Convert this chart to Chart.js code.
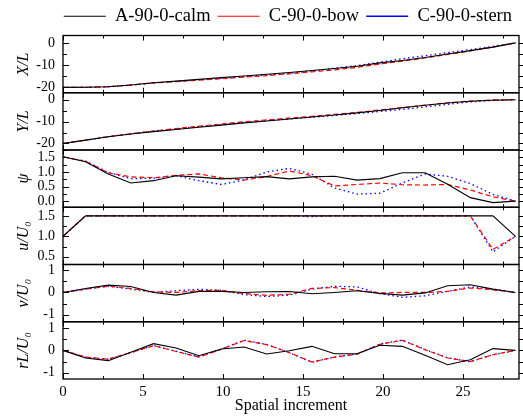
<!DOCTYPE html>
<html>
<head>
<meta charset="utf-8">
<script src="https://cdn.jsdelivr.net/npm/chart.js@4.4.1/dist/chart.umd.min.js"></script>
<style>
	html,body{margin:0;padding:0;background:#fff;}
	#wrap{width:523px;height:416px;}
</style>
</head>
<body>
<div id="wrap"><canvas id="trackChart" width="523" height="416"></canvas></div>
<script>
// spatial increment of each sample
var increment = [0, 1.41, 2.83, 4.24, 5.66, 7.07, 8.49, 9.9, 11.31, 12.73, 14.14, 15.56, 16.97, 18.38, 19.8, 21.21, 22.63, 24.04, 25.46, 26.87, 28.28];
var seriesNames = ['A-90-0-calm', 'C-90-0-bow', 'C-90-0-stern'];

// X/L
var xCalm  = [-20, -19.95, -19.7, -18.9, -17.9, -17.2, -16.4, -15.6, -14.9, -14.1, -13.3, -12.4, -11.5, -10.5, -9.0, -7.9, -6.6, -5.0, -3.5, -1.9, 0];
var xBow   = [-20, -19.95, -19.7, -18.9, -18.0, -17.4, -16.8, -16.1, -15.4, -14.7, -13.9, -13.0, -12.1, -11.0, -9.5, -8.2, -6.8, -5.2, -3.6, -1.9, 0];
var xStern = [-20, -19.95, -19.7, -19.0, -18.0, -17.3, -16.6, -15.9, -15.1, -14.4, -13.6, -12.6, -11.4, -10.2, -8.7, -7.1, -5.8, -4.4, -3.0, -1.6, 0];
// Y/L
var yCalm  = [-20, -18.5, -16.9, -15.7, -14.6, -13.6, -12.6, -11.6, -10.6, -9.7, -8.8, -7.9, -7.0, -6.0, -4.9, -3.7, -2.5, -1.5, -0.7, -0.2, 0];
var yBow   = [-20, -18.5, -16.9, -15.6, -14.3, -13.2, -12.1, -11.1, -10.1, -9.2, -8.4, -7.6, -6.7, -5.8, -4.7, -3.6, -2.5, -1.4, -0.6, -0.1, 0];
var yStern = [-20, -18.5, -16.9, -15.6, -14.4, -13.4, -12.4, -11.4, -10.5, -9.6, -8.8, -8.0, -7.2, -6.3, -5.4, -4.4, -3.3, -2.1, -1.0, -0.3, 0];
// psi
var psiCalm  = [1.52, 1.35, 0.93, 0.62, 0.70, 0.87, 0.82, 0.76, 0.80, 0.84, 0.76, 0.83, 0.85, 0.72, 0.77, 0.97, 0.97, 0.58, 0.12, -0.05, 0];
var psiBow   = [1.52, 1.36, 0.97, 0.83, 0.80, 0.88, 0.93, 0.80, 0.72, 0.84, 1.03, 0.87, 0.52, 0.57, 0.62, 0.56, 0.55, 0.57, 0.38, 0.15, 0];
var psiStern = [1.52, 1.37, 0.98, 0.77, 0.78, 0.87, 0.70, 0.57, 0.72, 1.0, 1.12, 0.92, 0.45, 0.24, 0.27, 0.62, 0.93, 0.85, 0.60, 0.23, 0];
// u/U0
var uCalm  = [1.0, 1.5, 1.5, 1.5, 1.5, 1.5, 1.5, 1.5, 1.5, 1.5, 1.5, 1.5, 1.5, 1.5, 1.5, 1.5, 1.5, 1.5, 1.5, 1.5, 1.0];
var uBow   = [1.0, 1.5, 1.5, 1.5, 1.5, 1.5, 1.5, 1.5, 1.5, 1.5, 1.5, 1.5, 1.5, 1.5, 1.5, 1.5, 1.5, 1.5, 1.5, 0.68, 1.0];
var uStern = [1.0, 1.5, 1.5, 1.5, 1.5, 1.5, 1.5, 1.5, 1.5, 1.5, 1.5, 1.48, 1.5, 1.5, 1.5, 1.5, 1.5, 1.5, 1.5, 0.62, 1.0];
// v/U0
var vCalm  = [0, 0.18, 0.33, 0.27, 0.0, -0.12, 0.05, 0.05, 0.0, 0.03, 0.04, -0.06, 0.0, 0.08, -0.04, -0.12, -0.02, 0.3, 0.35, 0.15, 0];
var vBow   = [0, 0.15, 0.28, 0.18, 0.03, 0.0, 0.08, 0.1, -0.05, -0.13, -0.08, 0.18, 0.22, 0.1, -0.02, 0.0, 0.0, 0.05, 0.2, 0.12, 0];
var vStern = [0, 0.15, 0.28, 0.15, 0.0, 0.08, 0.14, 0.1, -0.1, -0.18, -0.12, 0.15, 0.28, 0.25, -0.05, -0.22, -0.15, 0.05, 0.25, 0.15, 0];
// rL/U0
var rCalm  = [0, -0.34, -0.46, -0.08, 0.3, 0.11, -0.24, 0.06, 0.15, -0.16, -0.02, 0.18, -0.15, -0.15, 0.23, 0.18, -0.22, -0.64, -0.42, 0.08, 0];
var rBow   = [0, -0.3, -0.39, -0.1, 0.21, -0.05, -0.3, 0.05, 0.44, 0.26, -0.1, -0.52, -0.3, -0.17, 0.27, 0.45, 0.03, -0.34, -0.5, -0.19, 0];
var rStern = [0, -0.31, -0.4, -0.1, 0.22, -0.04, -0.29, 0.06, 0.45, 0.27, -0.1, -0.53, -0.3, -0.16, 0.28, 0.46, 0.04, -0.33, -0.51, -0.2, 0];

var serif = "'Liberation Serif', 'DejaVu Serif', serif";
var lineStyles = [
	{ color: '#000000', dash: [], width: 1.1 },
	{ color: '#ff0000', dash: [5, 3], width: 1.2 },
	{ color: '#0000ff', dash: [1.5, 3], width: 1.3 }
];

// one entry per panel, top to bottom
var panels = [
	{ id: 'yX',   title: 'X/L',    min: -22.4, max: 3.3,  step: 10,  dec: 0, series: [xCalm, xBow, xStern] },
	{ id: 'yY',   title: 'Y/L',    min: -23,   max: 3.2,  step: 10,  dec: 0, series: [yCalm, yBow, yStern] },
	{ id: 'yPsi', title: 'ψ',      min: -0.21, max: 1.75, step: 0.5, dec: 1, series: [psiCalm, psiBow, psiStern] },
	{ id: 'yU',   title: 'u/U₀',   min: 0.31,  max: 1.71, step: 0.5, dec: 1, series: [uCalm, uBow, uStern] },
	{ id: 'yV',   title: 'v/U₀',   min: -1.32, max: 1.26, step: 1,   dec: 0, series: [vCalm, vBow, vStern] },
	{ id: 'yR',   title: 'rL/U₀',  min: -1.28, max: 1.28, step: 1,   dec: 0, series: [rCalm, rBow, rStern] }
];

function toPoints(values){
	return values.map(function(v, i){ return { x: increment[i], y: v }; });
}

function makeDatasets(){
	var sets = [];
	for (var s = 0; s < 3; s++) {
		panels.forEach(function(p){
			sets.push({
				label: seriesNames[s],
				data: toPoints(p.series[s]),
				yAxisID: p.id,
				borderColor: lineStyles[s].color,
				backgroundColor: lineStyles[s].color,
				borderDash: lineStyles[s].dash,
				borderWidth: lineStyles[s].width,
				pointRadius: 0,
				tension: 0,
				fill: false,
				order: s
			});
		});
	}
	return sets;
}

function makeScales(){
	var scales = {
		x: {
			type: 'linear', min: 0, max: 28.5,
			ticks: { stepSize: 5, includeBounds: false, autoSkip: false, padding: 4, color: '#000', font: { family: serif, size: 15 } },
			grid: { display: false, drawTicks: false },
			border: { display: false },
			title: { display: true, text: 'Spatial increment', color: '#000', font: { family: serif, size: 16 }, padding: { top: 0, bottom: 1 } },
			afterFit: function(scale){ scale.height = 37; }
		}
	};
	panels.forEach(function(p, i){
		scales[p.id] = {
			type: 'linear', position: 'left', stack: 'panels', stackWeight: 1, weight: 10 - i,
			min: p.min, max: p.max,
			ticks: {
				stepSize: p.step, includeBounds: false, autoSkip: false, padding: 8, color: '#000',
				font: { family: serif, size: 14 },
				callback: function(v){ return v.toFixed(p.dec); }
			},
			grid: { display: false, drawTicks: false },
			border: { display: false },
			title: { display: true, text: p.title, color: '#000', font: { family: serif, size: 16, style: 'italic' }, padding: { top: 14, bottom: 0 } },
			afterFit: function(scale){ scale.width = 63; }
		};
	});
	return scales;
}

// panel frames with inward ticks, as in the original figure
var panelFrame = {
	id: 'panelFrame',
	afterDatasetsDraw: function(chart){
		var ctx = chart.ctx, xs = chart.scales.x, area = chart.chartArea;
		function seg(x1, y1, x2, y2){ ctx.beginPath(); ctx.moveTo(x1, y1); ctx.lineTo(x2, y2); ctx.stroke(); }
		ctx.save();
		ctx.strokeStyle = '#000';
		ctx.setLineDash([]);
		panels.forEach(function(p){
			var s = chart.scales[p.id];
			ctx.lineWidth = 1.3;
			ctx.strokeRect(area.left, s.top, area.right - area.left, s.bottom - s.top);
			ctx.lineWidth = 1;
			for (var v = 0; v <= xs.max; v += 2.5) {
				var px = Math.round(xs.getPixelForValue(v)) + 0.5, len = (v % 5 === 0) ? 5 : 3;
				seg(px, s.top, px, s.top + len);
				seg(px, s.bottom, px, s.bottom - len);
			}
			s.ticks.forEach(function(t){
				[t.value, t.value - p.step / 2, t.value + p.step / 2].forEach(function(val, k){
					if (val < s.min || val > s.max) return;
					var py = Math.round(s.getPixelForValue(val)) + 0.5, len = k === 0 ? 6 : 4;
					seg(area.left, py, area.left + len, py);
					seg(area.right, py, area.right + 4, py);
				});
			});
		});
		ctx.restore();
	}
};

function drawChart(){
	Chart.defaults.color = '#000';
	Chart.defaults.font.family = serif;
	new Chart(document.getElementById('trackChart'), {
		type: 'line',
		data: { datasets: makeDatasets() },
		options: {
			responsive: false,
			animation: false,
			devicePixelRatio: 1,
			layout: { padding: { top: 0, right: 4, bottom: 0, left: 0 } },
			plugins: {
				legend: {
					display: true, position: 'top', align: 'end',
					labels: {
						usePointStyle: true, pointStyle: 'line', pointStyleWidth: 42,
						padding: 7, color: '#000',
						font: { family: serif, size: 18.5 },
						filter: function(item){ return item.datasetIndex % panels.length === 0; }
					}
				},
				tooltip: { enabled: false }
			},
			scales: makeScales()
		},
		plugins: [panelFrame]
	});
}

drawChart();
</script>
</body>
</html>
